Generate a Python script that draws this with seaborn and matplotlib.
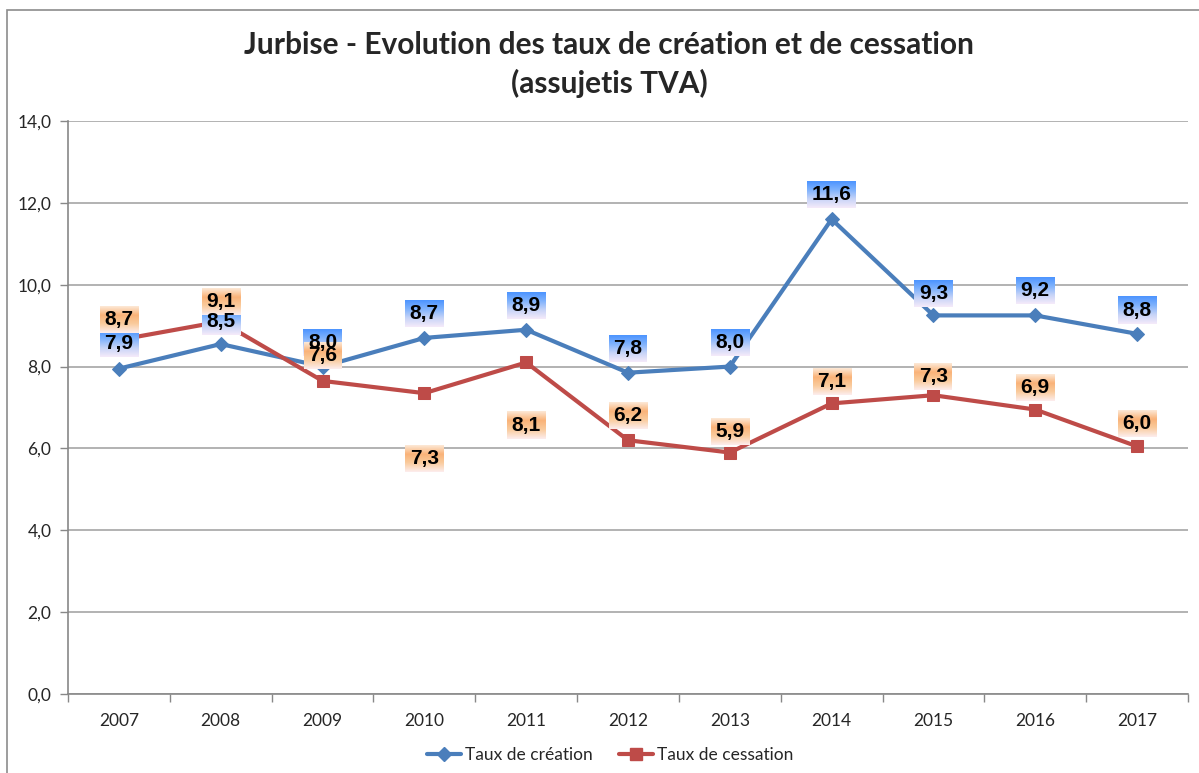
import numpy as np
import pandas as pd
import seaborn as sns
import matplotlib.pyplot as plt
from matplotlib.patches import Rectangle
from matplotlib.lines import Line2D

years = ['2007', '2008', '2009', '2010', '2011', '2012', '2013', '2014', '2015', '2016', '2017']
creation = [7.95, 8.55, 8.0, 8.7, 8.9, 7.85, 8.0, 11.6, 9.25, 9.25, 8.8]
cessation = [8.65, 9.1, 7.65, 7.35, 8.1, 6.2, 5.9, 7.1, 7.3, 6.95, 6.05]
creation_lbl = ['7,9', '8,5', '8,0', '8,7', '8,9', '7,8', '8,0', '11,6', '9,3', '9,2', '8,8']
cessation_lbl = ['8,7', '9,1', '7,6', '7,3', '8,1', '6,2', '5,9', '7,1', '7,3', '6,9', '6,0']
# label offsets in pixels (negative = above point)
creation_off = [-25, -23, -24, -24, -24, -24, -24, -25, -22, -25, -23]
cessation_off = [-20, -20, -25, 65, 63, -25, -21, -22, -19, -22, -23]

blue = '#4a7ebb'
red = '#be4b48'

sns.set_theme(style='white')
plt.rcParams['font.family'] = ['Lato', 'DejaVu Sans']

df = pd.DataFrame({'year': years, 'Taux de création': creation, 'Taux de cessation': cessation})
df['x'] = np.arange(len(years))

fig = plt.figure(figsize=(11.99, 7.73), dpi=100)
ax = fig.add_axes([68 / 1199, 1 - 694 / 773, (1188 - 68) / 1199, (694 - 121) / 773])

sns.lineplot(data=df, x='x', y='Taux de création', ax=ax, color=blue, lw=3,
             marker='D', markersize=7, markeredgecolor=blue, zorder=3)
sns.lineplot(data=df, x='x', y='Taux de cessation', ax=ax, color=red, lw=3,
             marker='s', markersize=8, markeredgecolor=red, zorder=3)

ax.set_xlim(-0.5, len(years) - 0.5)
ax.set_ylim(0, 14)
ax.set_yticks(np.arange(0, 14.1, 2))
ax.set_yticklabels([f'{v:.1f}'.replace('.', ',') for v in np.arange(0, 14.1, 2)], fontsize=12.5)
ax.set_xticks(df['x'])
ax.set_xticklabels(years, fontsize=12.5)
ax.set_xticks(np.arange(-0.5, len(years), 1), minor=True)
ax.tick_params(axis='x', which='major', length=0, pad=14)
ax.tick_params(axis='x', which='minor', length=6, color='#888888', width=1, direction='out', bottom=True)
ax.tick_params(axis='y', length=6, color='#888888', width=1, direction='out', left=True, pad=6)
ax.set_xlabel('')
ax.set_ylabel('')
ax.yaxis.grid(True, color='#a6a6a6', lw=1.2)
ax.set_axisbelow(True)
for s in ['top', 'right']:
    ax.spines[s].set_visible(False)
for s in ['left', 'bottom']:
    ax.spines[s].set_color('#888888')
    ax.spines[s].set_linewidth(1.2)

# gradient label boxes
blue_grad = np.array([[0.30, 0.58, 1.0], [0.50, 0.70, 0.99], [0.78, 0.83, 0.97], [0.96, 0.92, 0.98]])
orange_grad = np.array([[0.99, 0.91, 0.84], [0.98, 0.70, 0.47], [0.98, 0.80, 0.62], [0.99, 0.93, 0.93]])

def interp(stops, n=64):
    t = np.linspace(0, 1, len(stops))
    tt = np.linspace(0, 1, n)
    return np.stack([np.interp(tt, t, stops[:, c]) for c in range(3)], axis=1)[:, None, :]

texts = []
for vals, lbls, offs, grad in [(creation, creation_lbl, creation_off, blue_grad),
                               (cessation, cessation_lbl, cessation_off, orange_grad)]:
    for i, (v, l, o) in enumerate(zip(vals, lbls, offs)):
        t = ax.annotate(l, (i, v), xytext=(0, -o), textcoords='offset pixels',
                        ha='center', va='center', fontsize=15, fontweight='bold',
                        family=['Liberation Sans', 'DejaVu Sans'], color='black', zorder=6)
        texts.append((t, grad))

fig.canvas.draw()
inv = ax.transData.inverted()
for t, grad in texts:
    bb = t.get_window_extent()
    cx = (bb.x0 + bb.x1) / 2
    cy = (bb.y0 + bb.y1) / 2
    w = bb.width + 9
    h = 27
    (x0, y0) = inv.transform((cx - w / 2, cy - h / 2))
    (x1, y1) = inv.transform((cx + w / 2, cy + h / 2))
    ax.imshow(interp(grad), extent=(x0, x1, y0, y1), aspect='auto', zorder=5,
              interpolation='bilinear')
ax.set_xlim(-0.5, len(years) - 0.5)
ax.set_ylim(0, 14)

# title
fig.text(609 / 1199, 1 - 45 / 773, 'Jurbise - Evolution des taux de création et de cessation',
         ha='center', va='center', fontsize=21.5, fontweight='bold')
fig.text(609 / 1199, 1 - 83 / 773, '(assujetis TVA)',
         ha='center', va='center', fontsize=21.5, fontweight='bold')

# legend
handles = [Line2D([], [], color=blue, lw=3, marker='D', markersize=7),
           Line2D([], [], color=red, lw=3, marker='s', markersize=8)]
fig.legend(handles, ['Taux de création', 'Taux de cessation'], loc='center',
           bbox_to_anchor=(610 / 1199, 1 - 755 / 773), ncol=2, frameon=False,
           fontsize=12.5, handlelength=2.0, columnspacing=1.5, handletextpad=0.2)

# outer frame
fig.patches.append(Rectangle((7 / 1199, -0.1), 1.2, 1.1 - 10 / 773, transform=fig.transFigure,
                             fill=False, edgecolor='#8c8c8c', lw=1.2))

fig.savefig('out.png', dpi=100)
